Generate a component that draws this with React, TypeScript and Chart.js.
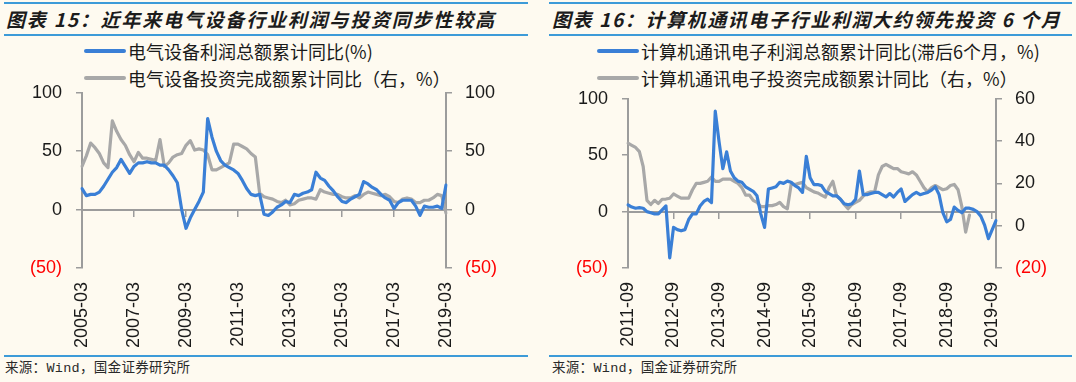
import React, { useEffect, useRef } from "react";
import { Chart, registerables } from "chart.js";

Chart.register(...registerables);

const FONT = '"Liberation Sans", "Noto Sans CJK SC", sans-serif';
const CJK = '"Noto Sans CJK SC", "Liberation Sans", sans-serif';
const BG = "#fefaf0";
const BLUE = "#3a7fd6";
const GRAY = "#a8a8a8";
const AXIS = "#9c9c9c";
const RULE = "#3d9bd8";

function monthLabels(y0: number, m0: number, count: number, step: number): string[] {
  const out: string[] = [];
  for (let i = 0; i < count; i++) {
    const t = m0 - 1 + i * step;
    const y = y0 + Math.floor(t / 12);
    const m = (t % 12) + 1;
    out.push(`${y}-${String(m).padStart(2, "0")}`);
  }
  return out;
}

// ---------- Chart 15: electrical equipment (bi-monthly, 2005-03 .. 2019-03) ----------
const elecLabels = monthLabels(2005, 3, 85, 2);
const elecProfit = [
  18, 12, 13, 13, 15, 20, 26, 32, 36, 43, 37, 31, 37, 40, 40, 41, 40, 40, 38, 38,
  34, 29, 23, 0, -16, -7, 0, 7, 15, 78, 62, 50, 42, 38, 36, 34, 31, 25, 18, 13,
  12, 13, -4, -5, -2, 2, 4, 7, 6, 13, 12, 14, 15, 17, 32, 27, 25, 20, 16, 11,
  7, 6, 9, 11, 13, 24, 22, 19, 17, 13, 10, 8, 1, 6, 8, 8, 8, 3, -5, 3,
  2, 2, 3, 1, 21,
];
const elecInvest = [
  37, 46, 57, 53, 48, 40, 36, 76, 67, 60, 55, 47, 41, 49, 44, 44, 43, 42, 60, 37,
  40, 45, 47, 48, 55, 59, 51, 52, 51, 47, 34, 34, 36, 38, 40, 56, 56, 54, 52, 48,
  45, 14, 11, 10, 9, 7, 6, 8, 4, 5, 8, 9, 10, 10, 9, 17, 15, 14, 13, 13,
  11, 10, 10, 12, 10, 13, 15, 14, 13, 12, 13, 11, 7, 6, 9, 10, 9, 6, 6, 8,
  8, 10, 13, 12, -3,
];

// ---------- Chart 16: computer/communication/electronics (monthly, 2011-09 .. 2019-10) ----------
const ictLabels = monthLabels(2011, 9, 98, 1);
const ictProfit = [
  6, 4, 3, 3.5, 3, 0, -1, -2, -2, 1.5, 5, -41, -14, -16, -17, -16, -7, -2, -2, 5,
  9, 11, 8, 89, 62, 38, 53, 36, 30, 27, 26, 22, 20, 18, 14, -2, -14, 20, 21, 22,
  26, 25, 27, 26, 23, 21, 17, 49, 30, 24, 24, 23, 18, 16, 14, 14, 11, 7, 6, 7,
  11, 36, 15, 15, 16, 17, 17, 15, 13, 16, 13, 17, 20, 9, 12, 15, 17, 15, 16, 17,
  19, 22, 15, -1, -9, -7, 4, 1, -1, 3, 3, 2, 0, -4, -12, -24, -16, -8,
];
const ictInvest = [
  39, 38, 37, 35, 28, 12, 10, 12, 10.5, 12.5, 12.6, 13, 15, 14, 13, 13, 13, 17, 20, 20,
  20.5, 21, 23, 21, 21, 22, 22, 22, 21, 20, 18, 14.5, 14.5, 12, 11, 9, 9, 9.5, 9.5, 10,
  11, 9, 8, 19.5, 19.5, 20, 20.5, 18, 17, 16, 15.5, 14.5, 13.5, 18, 21, 14, 12.5, 10, 8, 10,
  11, 12, 14, 15.5, 16, 16, 24, 28, 29, 28, 27, 27, 25.5, 25, 24.5, 25.5, 24, 21, 18, 16,
  18, 19, 18, 17, 17.5, 19, 19.5, 17, 9, -3, 5, null, null, null, null, null, null, null,
];

const fmt = (v: number | string) => {
  const n = Number(v);
  return n < 0 ? `(${Math.abs(n)})` : `${n}`;
};
const tickColor = (ctx: any) => (ctx.tick && ctx.tick.value < 0 ? "#ff0000" : "#1a1a1a");

type PanelProps = {
  left: number;
  top: number;
  width: number;
  height: number;
  labels: string[];
  profit: (number | null)[];
  invest: (number | null)[];
  every: number;
  yMin: number;
  yMax: number;
  yStep: number;
  y1Min: number;
  y1Max: number;
  y1Step: number;
  leftW: number;
  rightW: number;
  bottomH: number;
  padTop: number;
};

function Panel(p: PanelProps) {
  const ref = useRef<HTMLCanvasElement>(null);
  useEffect(() => {
    const chart = new Chart(ref.current as HTMLCanvasElement, {
      type: "line",
      data: {
        labels: p.labels,
        datasets: [
          {
            data: p.profit,
            borderColor: BLUE,
            backgroundColor: BLUE,
            borderWidth: 3.2,
            xAxisID: "x",
            yAxisID: "y",
          },
          {
            data: p.invest,
            borderColor: GRAY,
            backgroundColor: GRAY,
            borderWidth: 3.2,
            xAxisID: "x",
            yAxisID: "y1",
          },
        ],
      },
      options: {
        animation: false,
        responsive: false,
        devicePixelRatio: 1,
        layout: { padding: { top: p.padTop, left: 0, right: 0, bottom: 0 } },
        elements: {
          point: { radius: 0, hoverRadius: 0 },
          line: { tension: 0, borderJoinStyle: "round", borderCapStyle: "round" },
        },
        plugins: { legend: { display: false }, tooltip: { enabled: false }, title: { display: false } },
        scales: {
          x: {
            type: "category",
            axis: "x",
            position: { y: 0 } as any,
            grid: {
              display: true,
              drawOnChartArea: false,
              drawTicks: true,
              tickLength: 6,
              lineWidth: 1.5,
              color: (ctx: any) => (ctx.index % p.every === 0 ? AXIS : "rgba(0,0,0,0)"),
            },
            border: { display: true, color: AXIS, width: 2 },
            ticks: { display: false, autoSkip: false },
          },
          x2: {
            type: "category",
            axis: "x",
            position: "bottom",
            grid: { display: false, drawTicks: false },
            border: { display: false },
            ticks: {
              autoSkip: false,
              minRotation: 90,
              maxRotation: 90,
              padding: 14,
              color: "#1a1a1a",
              font: { family: FONT, size: 18 },
              callback: (_v: any, i: number) => (i % p.every === 0 ? p.labels[i] : ""),
            },
            afterFit: (s: any) => {
              s.height = p.bottomH;
            },
          },
          y: {
            axis: "y",
            position: "left",
            min: p.yMin,
            max: p.yMax,
            grid: { drawOnChartArea: false, drawTicks: true, tickLength: 6, color: AXIS, lineWidth: 1.5 },
            border: { display: true, color: AXIS, width: 2 },
            ticks: {
              stepSize: p.yStep,
              callback: fmt,
              color: tickColor,
              padding: 14,
              font: { family: FONT, size: 18 },
            },
            afterFit: (s: any) => {
              s.width = p.leftW;
            },
          },
          y1: {
            axis: "y",
            position: "right",
            min: p.y1Min,
            max: p.y1Max,
            grid: { drawOnChartArea: false, drawTicks: true, tickLength: 6, color: AXIS, lineWidth: 1.5 },
            border: { display: true, color: AXIS, width: 2 },
            ticks: {
              stepSize: p.y1Step,
              callback: fmt,
              color: tickColor,
              padding: 13,
              font: { family: FONT, size: 18 },
            },
            afterFit: (s: any) => {
              s.width = p.rightW;
            },
          },
        },
      } as any,
    });
    return () => chart.destroy();
  }, []);
  return (
    <canvas
      ref={ref}
      width={p.width}
      height={p.height}
      style={{ position: "absolute", left: p.left, top: p.top, width: p.width, height: p.height }}
    />
  );
}

function Rule({ x1, x2, y }: { x1: number; x2: number; y: number }) {
  return (
    <div style={{ position: "absolute", left: x1, top: y - 1, width: x2 - x1, height: 2, background: RULE }} />
  );
}

function LegendRow({ x, y, color, text }: { x: number; y: number; color: string; text: string }) {
  return (
    <div
      style={{
        position: "absolute",
        left: x,
        top: y - 13,
        height: 26,
        display: "flex",
        alignItems: "center",
        whiteSpace: "nowrap",
        fontFamily: CJK,
        fontSize: 18,
        color: "#1a1a1a",
      }}
    >
      <span style={{ display: "inline-block", width: 42, height: 4, background: color, borderRadius: 2, marginRight: 2 }} />
      <span>{text}</span>
    </div>
  );
}

function Title({ x, text, spacing }: { x: number; text: string; spacing: number }) {
  return (
    <div
      style={{
        position: "absolute",
        left: x,
        top: 5,
        height: 28,
        lineHeight: "28px",
        whiteSpace: "nowrap",
        fontFamily: CJK,
        fontSize: 19,
        fontWeight: 700,
        fontStyle: "italic",
        letterSpacing: spacing,
        color: "#1c1c1c",
      }}
    >
      {text}
    </div>
  );
}

function Source({ x }: { x: number }) {
  return (
    <div
      style={{
        position: "absolute",
        left: x,
        top: 360,
        height: 18,
        lineHeight: "18px",
        whiteSpace: "nowrap",
        fontFamily: '"Liberation Mono", "Noto Sans CJK SC", monospace',
        fontSize: 13.5,
        letterSpacing: 0.3,
        color: "#2a2a2a",
      }}
    >
      来源：Wind，国金证券研究所
    </div>
  );
}

export default function App() {
  return (
    <div
      style={{
        position: "fixed",
        left: 0,
        top: 0,
        width: 1076,
        height: 382,
        background: BG,
        overflow: "hidden",
      }}
    >
      <Rule x1={4} x2={528} y={3} />
      <Rule x1={4} x2={528} y={35} />
      <Rule x1={4} x2={528} y={356} />
      <Rule x1={549} x2={1072} y={3} />
      <Rule x1={549} x2={1072} y={35} />
      <Rule x1={549} x2={1072} y={356} />

      <Title x={6} spacing={1.8} text="图表 15：近年来电气设备行业利润与投资同步性较高" />
      <Title x={552} spacing={1.6} text="图表 16：计算机通讯电子行业利润大约领先投资 6 个月" />

      <LegendRow x={84} y={51} color={BLUE} text="电气设备利润总额累计同比(%)" />
      <LegendRow x={84} y={78} color={GRAY} text="电气设备投资完成额累计同比（右，%）" />
      <LegendRow x={597} y={51} color={BLUE} text="计算机通讯电子利润总额累计同比(滞后6个月，%)" />
      <LegendRow x={597} y={78} color={GRAY} text="计算机通讯电子投资完成额累计同比（右，%）" />

      <Panel
        left={0}
        top={68}
        width={540}
        height={282}
        labels={elecLabels}
        profit={elecProfit}
        invest={elecInvest}
        every={12}
        yMin={-50}
        yMax={100}
        yStep={50}
        y1Min={-50}
        y1Max={100}
        y1Step={50}
        leftW={82}
        rightW={94}
        bottomH={82}
        padTop={14}
      />
      <Panel
        left={540}
        top={74}
        width={536}
        height={276}
        labels={ictLabels}
        profit={ictProfit}
        invest={ictInvest}
        every={12}
        yMin={-50}
        yMax={100}
        yStep={50}
        y1Min={-20}
        y1Max={60}
        y1Step={20}
        leftW={88}
        rightW={80}
        bottomH={82}
        padTop={14}
      />

      <Source x={5} />
      <Source x={552} />
    </div>
  );
}
